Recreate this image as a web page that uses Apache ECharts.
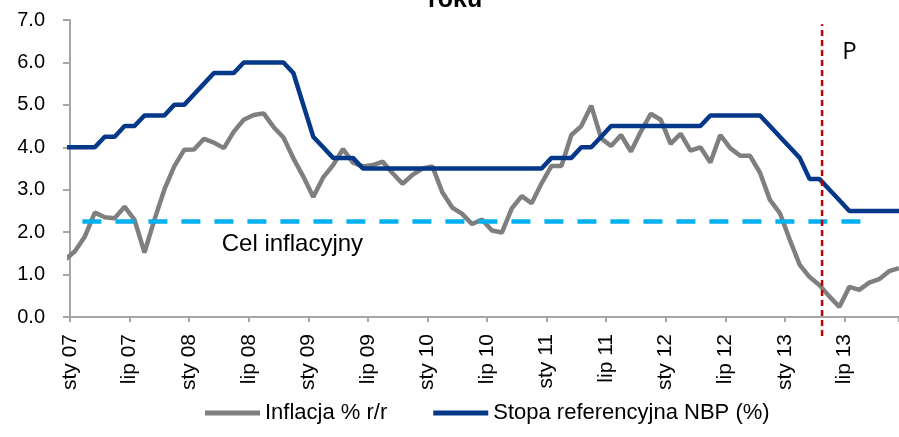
<!DOCTYPE html>
<html>
<head>
<meta charset="utf-8">
<script src="https://cdn.jsdelivr.net/npm/echarts@6/dist/echarts.min.js"></script>
<style>
  html, body { margin: 0; padding: 0; background: #fff; }
  #chart { width: 899px; height: 437px; }
</style>
</head>
<body>
<div id="chart"></div>
<script>
// monthly data, Dec 2006 .. Dec 2013 (first point sits half a month left of the axis and is clipped)
const inflation = [
  1.35,
  1.55, 1.9, 2.46, 2.35, 2.33, 2.6, 2.29, 1.52, 2.29, 3.0, 3.55, 3.94,
  3.95, 4.2, 4.11, 3.98, 4.37, 4.65, 4.76, 4.8, 4.48, 4.23, 3.74, 3.31,
  2.83, 3.29, 3.58, 3.96, 3.64, 3.55, 3.58, 3.66, 3.39, 3.14, 3.35, 3.5,
  3.55, 2.94, 2.58, 2.43, 2.19, 2.3, 2.04, 1.99, 2.56, 2.85, 2.68, 3.15,
  3.56, 3.56, 4.29, 4.5, 4.98, 4.21, 4.03, 4.29, 3.9, 4.37, 4.79, 4.65,
  4.08, 4.32, 3.92, 4.0, 3.64, 4.29, 3.98, 3.8, 3.8, 3.4, 2.76, 2.45,
  1.82, 1.23, 0.94, 0.75, 0.48, 0.24, 0.71, 0.64, 0.81, 0.89, 1.08, 1.15
]
const refRate = [
  4.0,
  4.0, 4.0, 4.0, 4.25, 4.25, 4.5, 4.5, 4.75, 4.75, 4.75, 5.0, 5.0,
  5.25, 5.5, 5.75, 5.75, 5.75, 6.0, 6.0, 6.0, 6.0, 6.0, 5.75, 5.0,
  4.25, 4.0, 3.75, 3.75, 3.75, 3.5, 3.5, 3.5, 3.5, 3.5, 3.5, 3.5,
  3.5, 3.5, 3.5, 3.5, 3.5, 3.5, 3.5, 3.5, 3.5, 3.5, 3.5, 3.5,
  3.75, 3.75, 3.75, 4.0, 4.0, 4.25, 4.5, 4.5, 4.5, 4.5, 4.5, 4.5,
  4.5, 4.5, 4.5, 4.5, 4.75, 4.75, 4.75, 4.75, 4.75, 4.75, 4.5, 4.25,
  4.0, 3.75, 3.25, 3.25, 3.0, 2.75, 2.5, 2.5, 2.5, 2.5, 2.5, 2.5
]
const tickLabels = [
  'sty 07', 'lip 07', 'sty 08', 'lip 08', 'sty 09', 'lip 09', 'sty 10',
  'lip 10', 'sty 11', 'lip 11', 'sty 12', 'lip 12', 'sty 13', 'lip 13'
]
const seriesNames = ['Inflacja % r/r', 'Stopa referencyjna NBP (%)']
const targetValue = 2.25
const targetSpan = [1.25, 81]        // months from Jan 2007
const forecastStart = 75.75          // months from Jan 2007
const forecastSpan = [-0.45, 6.9]

const FONT = '"Liberation Sans", Arial, sans-serif'

// x = months since 1 Jan 2007, each point at mid-month
const toPoints = arr => arr.map((v, i) => [i - 0.5, v])

const chart = echarts.init(document.getElementById('chart'))

const option = {
  animation: false,
  title: {
    text: 'roku',
    left: 423,
    top: -17,
    textStyle: { fontFamily: FONT, fontSize: 25, fontWeight: 'bold', color: '#000' }
  },
  grid: { left: 70, right: 0, top: 20, bottom: 120 },
  legend: {
    data: seriesNames,
    left: 200,
    top: 397,
    icon: 'rect',
    itemWidth: 55,
    itemHeight: 5,
    itemGap: 46,
    textStyle: { fontFamily: FONT, fontSize: 22, color: '#000' }
  },
  xAxis: {
    type: 'value',
    min: 0,
    max: 83.5,
    interval: 6,
    splitLine: { show: false },
    axisLine: { lineStyle: { color: '#A6A6A6', width: 2 } },
    axisTick: { length: 5, lineStyle: { color: '#A6A6A6', width: 2 } },
    axisLabel: {
      rotate: 90,
      margin: 17,
      fontFamily: FONT,
      fontSize: 21,
      color: '#000',
      formatter: v => (v % 6 === 0 && tickLabels[v / 6]) ? tickLabels[v / 6] : ''
    }
  },
  yAxis: {
    type: 'value',
    min: 0,
    max: 7,
    interval: 1,
    splitLine: { show: false },
    axisLine: { show: true, lineStyle: { color: '#A6A6A6', width: 2 } },
    axisTick: { show: true, length: 7, lineStyle: { color: '#A6A6A6', width: 2 } },
    axisLabel: {
      margin: 25,
      fontFamily: FONT,
      fontSize: 20,
      color: '#000',
      formatter: v => v.toFixed(1)
    }
  },
  series: [
    {
      name: seriesNames[0],
      type: 'line',
      data: toPoints(inflation),
      showSymbol: false,
      lineStyle: { color: '#7F7F7F', width: 4.5 },
      itemStyle: { color: '#7F7F7F' }
    },
    {
      name: seriesNames[1],
      type: 'line',
      data: toPoints(refRate),
      showSymbol: false,
      lineStyle: { color: '#06388A', width: 4.5 },
      itemStyle: { color: '#06388A' }
    },
    {
      name: 'Cel inflacyjny',
      type: 'line',
      data: targetSpan.map(x => [x, targetValue]),
      showSymbol: false,
      lineStyle: { color: '#00B0F0', width: 4.5, type: [19, 14] },
      markPoint: {
        symbol: 'circle',
        symbolSize: 1,
        itemStyle: { color: 'transparent' },
        label: {
          show: true,
          position: 'inside',
          formatter: 'Cel inflacyjny',
          fontFamily: FONT,
          fontSize: 24,
          color: '#000'
        },
        data: [{ coord: [22.4, 1.7] }]
      }
    },
    {
      name: 'prognoza',
      type: 'line',
      clip: false,
      data: forecastSpan.map(y => [forecastStart, y]),
      showSymbol: false,
      lineStyle: { color: '#C00000', width: 2.5, type: [6, 4] },
      markPoint: {
        symbol: 'circle',
        symbolSize: 1,
        itemStyle: { color: 'transparent' },
        label: {
          show: true,
          position: 'inside',
          formatter: 'P',
          fontFamily: '"Open Sans", sans-serif',
          fontSize: 24,
          color: '#000'
        },
        data: [{ coord: [78.5, 6.25] }]
      }
    }
  ]
}

chart.setOption(option)
window.addEventListener('resize', () => chart.resize())
</script>
</body>
</html>
